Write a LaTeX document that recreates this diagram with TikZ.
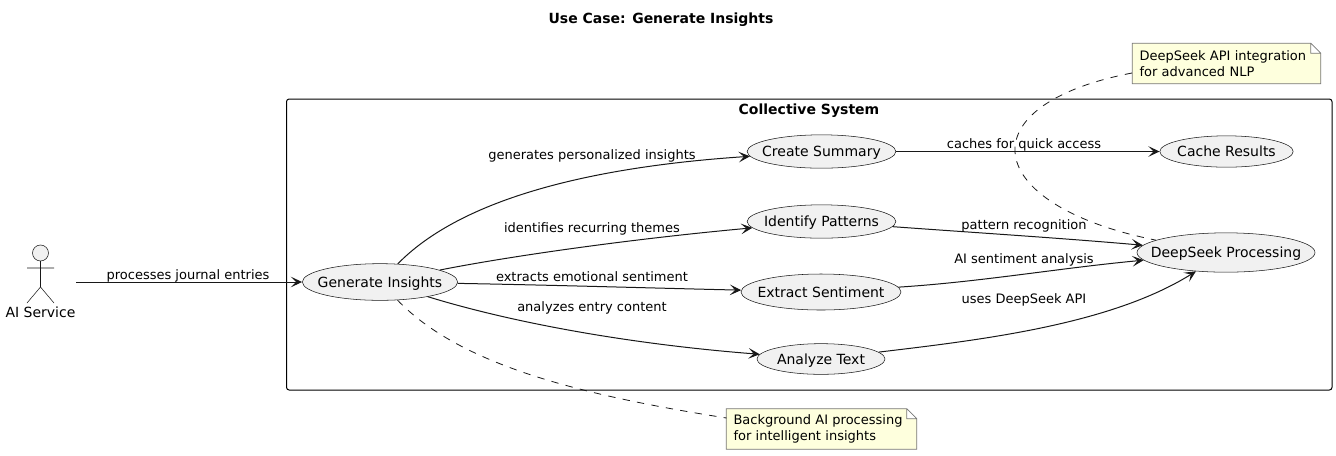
\documentclass[tikz,border=0pt]{standalone}
\usepackage{fontspec}
\setmainfont{DejaVu Sans}
\usepackage{xcolor}
\usepackage{tikz}
\usetikzlibrary{shapes.geometric,arrows.meta,calc,backgrounds}
\definecolor{linecol}{HTML}{181818}
\definecolor{casecol}{HTML}{F1F1F1}
\definecolor{notecol}{HTML}{FEFFDD}
\definecolor{notedraw}{HTML}{777777}

\begin{document}
\begin{tikzpicture}[
        x=0.75pt, y=-0.75pt,
        usecase/.style = {ellipse, draw=linecol, line width=0.4pt, fill=casecol, inner xsep=-30pt, inner ysep=0pt, text height=9.5pt, text depth=2pt, font=\fontsize{10.5}{12}\selectfont, text=black},
        lbl/.style = {inner sep=0pt, text height=8.4pt, text depth=2pt, font=\fontsize{9.75}{12}\selectfont, text=black},
        head/.style = {inner sep=0pt, text height=9.5pt, text depth=2pt, font=\fontsize{10.5}{12}\selectfont\bfseries, text=black},
        notetext/.style = {inner ysep=0pt, inner xsep=5.25pt, align=left, font=\fontsize{9.75}{11.6}\selectfont, text=black, minimum height=30pt},
        flow/.style = {line width=0.75pt, draw=linecol, -{Stealth[length=8.5pt, width=8pt, inset=4pt]}},
        link/.style = {line width=0.6pt, draw=linecol, dash pattern=on 5.5pt off 5.5pt},
        stick/.style = {line width=0.4pt, draw=linecol}
    ]
        \useasboundingbox (0,0) rectangle (1336,455);
        \node[head] (title) at (661,18) {Use Case: Generate Insights};

        % system frame
        \draw[line width=0.75pt, draw=black, rounded corners=2pt] (286.5,99) rectangle (1332,390);
        \node[head] (system) at (809,109) {Collective System};

        % actor
        \draw[stick, fill=casecol] (40.5,253) circle (8);
        \draw[stick] (40.5,261) -- (40.5,287) (27,268) -- (54,268) (27,303) -- (40.5,287) -- (54,303);
        \node[inner sep=0pt, text height=9.5pt, text depth=2pt, font=\fontsize{10.5}{12}\selectfont] (aiservice) at (40.5,312) {AI Service};
        \coordinate (aistart) at (76,282);

        % use cases
        \node[usecase, minimum width=116.5pt, minimum height=27.5pt] (generate) at (380,282) {Generate Insights};
        \node[usecase, minimum width=111.5pt, minimum height=25pt] (summary) at (821.5,151.5) {Create Summary};
        \node[usecase, minimum width=111.5pt, minimum height=25pt] (patterns) at (821.5,221.5) {Identify Patterns};
        \node[usecase, minimum width=120pt, minimum height=27pt] (sentiment) at (821,292) {Extract Sentiment};
        \node[usecase, minimum width=96pt, minimum height=23pt] (analyze) at (821,359) {Analyze Text};
        \node[usecase, minimum width=100pt, minimum height=23.5pt] (cache) at (1226.5,151.5) {Cache Results};
        \node[usecase, minimum width=133.5pt, minimum height=29.5pt] (deepseek) at (1226,252.5) {DeepSeek Processing};

        % notes
        \node[notetext, text width=130.5pt] (apinote) at (1226.5,63.5) {DeepSeek API integration\\for advanced NLP};
        \node[notetext, text width=132pt] (bgnote) at (821.5,429) {Background AI processing\\for intelligent insights};
        \coordinate (apiend) at (1132,73);
        \coordinate (bgend) at (726.5,418);
        \begin{scope}[on background layer]
            \foreach \n in {apinote,bgnote}
                \draw[line width=0.5pt, draw=notedraw, fill=notecol]
                    (\n.north west) -- ($(\n.north east)+(-10,0)$) -- ($(\n.north east)+(0,10)$)
                    -- (\n.south east) -- (\n.south west) -- cycle
                    ($(\n.north east)+(-10,0)$) -- ($(\n.north east)+(-10,10)$) -- ($(\n.north east)+(0,10)$);
        \end{scope}

        % connectors
        \draw[flow] (aistart) -- (generate);
        \draw[flow] (generate) .. controls (470,190) and (620,165) .. (summary);
        \draw[flow] (generate) .. controls (500,258) and (620,240) .. (patterns);
        \draw[flow] (generate) .. controls (550,285) and (650,288) .. (sentiment);
        \draw[flow] (generate) .. controls (520,325) and (640,345) .. (analyze);
        \draw[flow] (summary) -- (cache);
        \draw[flow] (patterns) .. controls (980,233) and (1060,238) .. (deepseek);
        \draw[flow] (sentiment) .. controls (980,282) and (1060,268) .. (deepseek);
        \draw[flow] (analyze) .. controls (980,340) and (1110,325) .. (deepseek);
        \draw[link] (apiend) .. controls (965,105) and (980,205) .. (deepseek.170);
        \draw[link] (generate) .. controls (460,365) and (580,395) .. (bgend);

        % edge labels
        \node[lbl] (lbla) at (188,275) {processes journal entries};
        \node[lbl] (lblb) at (592,155) {generates personalized insights};
        \node[lbl] (lblc) at (592,228) {identifies recurring themes};
        \node[lbl] (lbld) at (592,277) {extracts emotional sentiment};
        \node[lbl] (lble) at (592,307) {analyzes entry content};
        \node[lbl] (lblf) at (1024,144) {caches for quick access};
        \node[lbl] (lblg) at (1024,225) {pattern recognition};
        \node[lbl] (lblh) at (1024,259) {AI sentiment analysis};
        \node[lbl] (lbli) at (1024,299) {uses DeepSeek API};
    \end{tikzpicture}
\end{document}
